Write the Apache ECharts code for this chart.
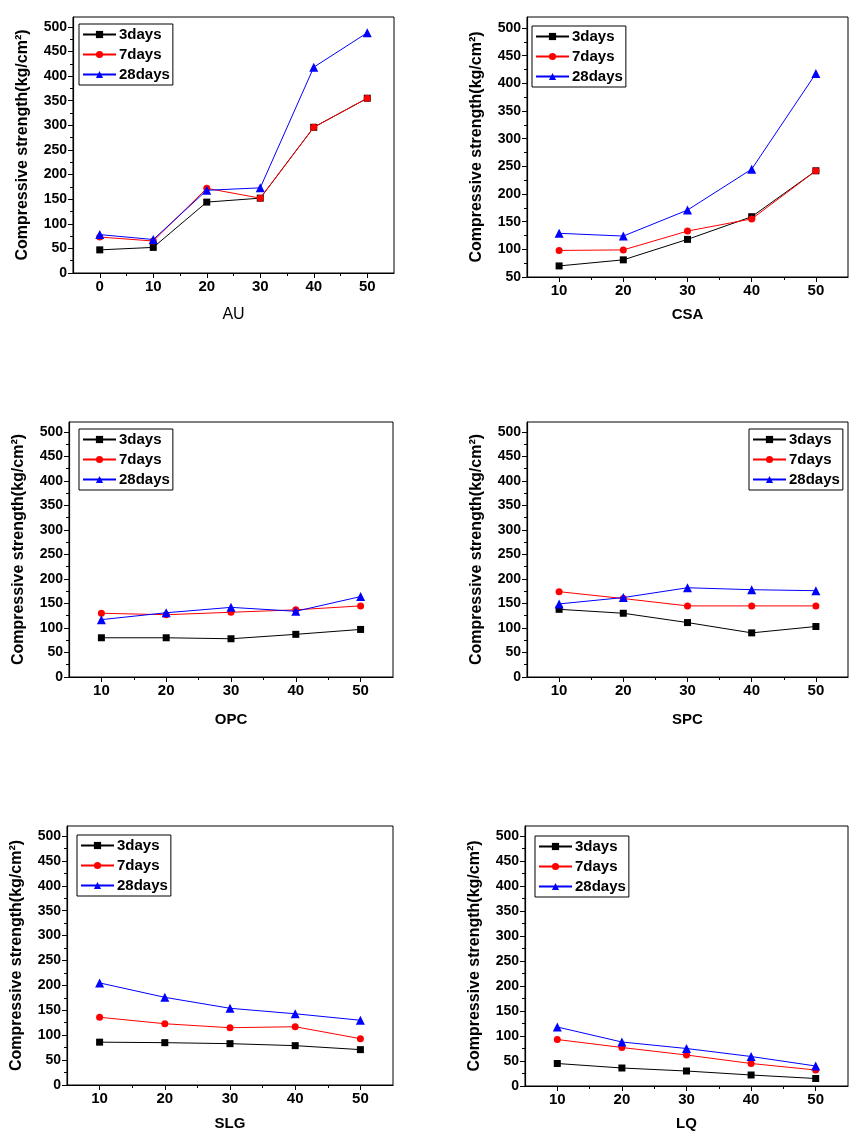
<!DOCTYPE html>
<html>
<head>
<meta charset="utf-8">
<script src="https://cdn.jsdelivr.net/npm/echarts@6/dist/echarts.min.js"></script>
<style>
  html, body { margin: 0; padding: 0; background: #fff; }
  #chart { width: 866px; height: 1144px; }
</style>
</head>
<body>
<div id="chart"></div>
<script>
// ---- data ----
const days = ['3days', '7days', '28days'];
const auX = [0, 10, 20, 30, 40, 50];
const mixX = [10, 20, 30, 40, 50];

const au3 = [47, 52, 144, 152, 296, 355];
const au7 = [73, 65, 172, 152, 296, 355];
const au28 = [78, 68, 168, 173, 418, 488];

const csa3 = [70, 81, 118, 159, 242];
const csa7 = [98, 99, 133, 155, 242];
const csa28 = [129, 124, 171, 245, 418];

const opc3 = [80, 80, 78, 87, 97];
const opc7 = [130, 127, 132, 137, 145];
const opc28 = [117, 131, 142, 134, 164];

const spc3 = [138, 130, 111, 90, 103];
const spc7 = [174, 160, 145, 145, 145];
const spc28 = [149, 162, 182, 178, 176];

const slg3 = [86, 85, 83, 79, 71];
const slg7 = [136, 123, 115, 117, 93];
const slg28 = [205, 176, 154, 143, 130];

const lq3 = [45, 36, 30, 22, 15];
const lq7 = [93, 77, 62, 45, 32];
const lq28 = [118, 88, 75, 59, 40];

const auXTicks = [0, 10, 20, 30, 40, 50];
const auXMinor = [5, 15, 25, 35, 45];
const mixXTicks = [10, 20, 30, 40, 50];
const mixXMinor = [15, 25, 35, 45];
const yTicks = [0, 50, 100, 150, 200, 250, 300, 350, 400, 450, 500];
const yMinor = [25, 75, 125, 175, 225, 275, 325, 375, 425, 475];
const csaYTicks = [50, 100, 150, 200, 250, 300, 350, 400, 450, 500];
const csaYMinor = [75, 125, 175, 225, 275, 325, 375, 425, 475];
const yName = 'Compressive strength(kg/cm\u00B2)';

// ---- layout ----
const panels = [
  { name: 'AU', x: auX, d: [au3, au7, au28], xmin: -5, xt: auXTicks, xm: auXMinor, ymin: 0, yt: yTicks, ym: yMinor,
    grid: { left: 73, top: 17, width: 321, height: 256 }, legend: { left: 79, top: 24 }, bold: false, xGap: 34 },
  { name: 'CSA', x: mixX, d: [csa3, csa7, csa28], xmin: 5, xt: mixXTicks, xm: mixXMinor, ymin: 50, yt: csaYTicks, ym: csaYMinor,
    grid: { left: 527, top: 17, width: 321, height: 260 }, legend: { left: 532, top: 26 }, bold: true, xGap: 30 },
  { name: 'OPC', x: mixX, d: [opc3, opc7, opc28], xmin: 5, xt: mixXTicks, xm: mixXMinor, ymin: 0, yt: yTicks, ym: yMinor,
    grid: { left: 69, top: 422, width: 324, height: 255 }, legend: { left: 79, top: 429 }, bold: true, xGap: 35 },
  { name: 'SPC', x: mixX, d: [spc3, spc7, spc28], xmin: 5, xt: mixXTicks, xm: mixXMinor, ymin: 0, yt: yTicks, ym: yMinor,
    grid: { left: 527, top: 422, width: 321, height: 255 }, legend: { left: 749, top: 429 }, bold: true, xGap: 35 },
  { name: 'SLG', x: mixX, d: [slg3, slg7, slg28], xmin: 5, xt: mixXTicks, xm: mixXMinor, ymin: 0, yt: yTicks, ym: yMinor,
    grid: { left: 67, top: 826, width: 326, height: 259 }, legend: { left: 77, top: 835 }, bold: true, xGap: 31 },
  { name: 'LQ', x: mixX, d: [lq3, lq7, lq28], xmin: 5, xt: mixXTicks, xm: mixXMinor, ymin: 0, yt: yTicks, ym: yMinor,
    grid: { left: 525, top: 826, width: 323, height: 260 }, legend: { left: 535, top: 836 }, bold: true, xGap: 30 }
];

const colors = ['#000000', '#ff0000', '#0000ff'];
const symbols = ['rect', 'circle', 'triangle'];
const symSizes = [7, 7, 9];
const FONT = '"Liberation Sans", Arial, sans-serif';

const option = { animation: false, backgroundColor: '#fff', grid: [], xAxis: [], yAxis: [], legend: [], series: [] };

panels.forEach((p, i) => {
  option.grid.push(Object.assign({ show: true, borderColor: '#000', borderWidth: 1, backgroundColor: 'transparent' }, p.grid));
  option.xAxis.push({
    gridIndex: i, type: 'value', min: p.xmin, max: 55, position: 'bottom',
    axisLine: { show: true, onZero: false, lineStyle: { color: '#000', width: 1.2 } },
    axisTick: { show: true, customValues: p.xt, length: 5, lineStyle: { color: '#000', width: 1 } },
    axisLabel: { customValues: p.xt, color: '#000', fontSize: 15, fontWeight: 'bold', fontFamily: FONT, margin: 6 },
    splitLine: { show: false },
    name: p.name, nameLocation: 'middle', nameGap: p.xGap,
    nameTextStyle: { color: '#000', fontSize: p.bold ? 15 : 16, fontWeight: p.bold ? 'bold' : 'normal', fontFamily: FONT }
  });
  option.xAxis.push({
    gridIndex: i, type: 'value', min: p.xmin, max: 55, position: 'bottom',
    axisLine: { show: false, onZero: false },
    axisTick: { show: true, customValues: p.xm, length: 3, lineStyle: { color: '#000', width: 1 } },
    axisLabel: { show: false }, splitLine: { show: false }
  });
  option.yAxis.push({
    gridIndex: i, type: 'value', min: p.ymin, max: 520, position: 'left',
    axisLine: { show: true, onZero: false, lineStyle: { color: '#000', width: 1.2 } },
    axisTick: { show: true, customValues: p.yt, length: 5, lineStyle: { color: '#000', width: 1 } },
    axisLabel: { customValues: p.yt, color: '#000', fontSize: 14, fontWeight: 'bold', fontFamily: FONT, margin: 6 },
    splitLine: { show: false },
    name: yName, nameLocation: 'middle', nameGap: 42, nameRotate: 90,
    nameTextStyle: { color: '#000', fontSize: 16, fontWeight: 'bold', fontFamily: FONT }
  });
  option.yAxis.push({
    gridIndex: i, type: 'value', min: p.ymin, max: 520, position: 'left',
    axisLine: { show: false, onZero: false },
    axisTick: { show: true, customValues: p.ym, length: 3, lineStyle: { color: '#000', width: 1 } },
    axisLabel: { show: false }, splitLine: { show: false }
  });
  option.legend.push({
    data: days, orient: 'vertical', left: p.legend.left, top: p.legend.top,
    borderColor: '#000', borderWidth: 1, borderRadius: 0, padding: [3, 3, 3, 3],
    itemWidth: 33, itemHeight: 9, itemGap: 5,
    textStyle: { color: '#000', fontSize: 15, fontWeight: 'bold', fontFamily: FONT, lineHeight: 15, padding: [0, 0, 0, -2] },
    selectedMode: false
  });
  days.forEach((dname, k) => {
    option.series.push({
      type: 'line', name: dname, xAxisIndex: 2 * i, yAxisIndex: 2 * i,
      data: p.x.map((xv, j) => [xv, p.d[k][j]]),
      symbol: symbols[k], symbolSize: symSizes[k],
      lineStyle: { color: colors[k], width: 1 },
      itemStyle: { color: colors[k] },
      z: 2 + k
    });
  });
});

const chart = echarts.init(document.getElementById('chart'), null, { renderer: 'canvas' });
chart.setOption(option);
</script>
</body>
</html>
